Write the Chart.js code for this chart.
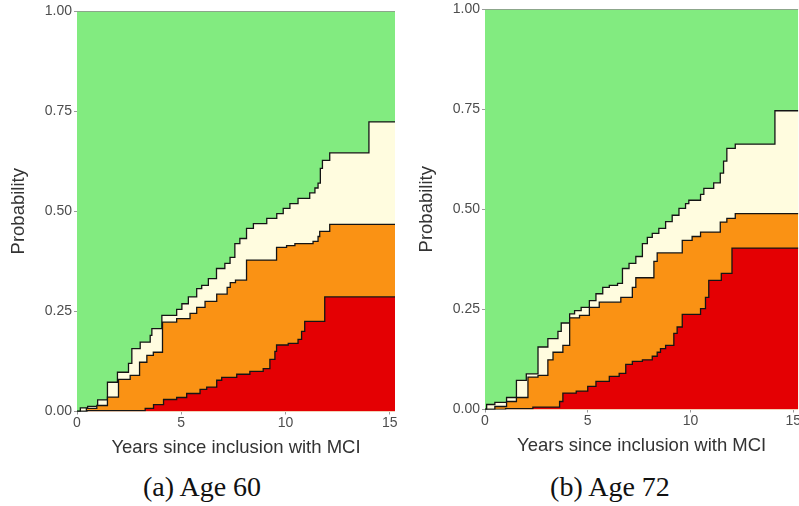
<!DOCTYPE html>
<html><head><meta charset="utf-8">
<script src="https://cdn.jsdelivr.net/npm/chart.js@4.4.0/dist/chart.umd.min.js"></script>
<style>
html,body{margin:0;padding:0;background:#fff;width:799px;height:506px;overflow:hidden;position:relative}
.wrap{position:absolute}
#w1{left:0;top:0;width:400px;height:460px}
#w2{left:408px;top:-2px;width:393px;height:460px}
.cap{position:absolute;top:471px;font-family:"Liberation Serif","Times New Roman",serif;font-size:28px;color:#111;white-space:nowrap;transform:translateX(-50%)}
</style></head><body>
<div class="wrap" id="w1"><canvas id="c1" width="400" height="460"></canvas></div>
<div class="wrap" id="w2"><canvas id="c2" width="393" height="460"></canvas></div>
<div class="cap" style="left:202px">(a) Age 60</div>
<div class="cap" style="left:610px">(b) Age 72</div>
<script>
// ---- data (years since inclusion, cumulative probability) ----
const xTicks = [0, 5, 10, 15];
const yTicks = [0, 0.25, 0.5, 0.75, 1];
const xMax = 15.25;
const panelTitles = ["(a) Age 60", "(b) Age 72"];

// Age 60 : boundaries of stacked bands (step functions)
const age60Red = [[0,0],[0.5,0.002],[3.27,0.008],[3.67,0.017],[4.15,0.03],[4.78,0.035],[5.26,0.045],[5.9,0.055],[6.22,0.061],[6.7,0.078],[6.94,0.085],[7.66,0.093],[8.29,0.1],[8.93,0.107],[9.25,0.13],[9.49,0.15],[9.57,0.166],[10.13,0.17],[10.6,0.18],[10.77,0.2],[10.92,0.225],[11.88,0.286],[15.25,0.286]];
const age60Orange = [[0,0],[0.45,0.008],[0.95,0.015],[1.46,0.036],[1.99,0.08],[2.55,0.09],[3.0,0.123],[3.35,0.14],[3.66,0.148],[4.1,0.223],[4.78,0.232],[5.42,0.245],[5.74,0.26],[6.14,0.275],[6.7,0.293],[7.2,0.31],[7.35,0.322],[7.6,0.328],[8.13,0.378],[9.57,0.41],[10.05,0.414],[10.45,0.419],[11.32,0.425],[11.56,0.437],[11.64,0.45],[12.12,0.467],[15.25,0.467]];
const age60Cream = [[0,0],[0.16,0.009],[0.51,0.013],[0.99,0.029],[1.46,0.073],[1.94,0.098],[2.47,0.12],[2.63,0.157],[3.03,0.173],[3.51,0.19],[3.59,0.207],[4.07,0.24],[4.78,0.255],[5.03,0.269],[5.34,0.286],[5.74,0.307],[5.98,0.315],[6.3,0.332],[6.69,0.357],[7.09,0.37],[7.34,0.385],[7.57,0.419],[7.81,0.432],[8.13,0.457],[8.46,0.469],[9.1,0.482],[9.58,0.494],[9.89,0.507],[10.21,0.519],[10.6,0.532],[11.16,0.546],[11.41,0.558],[11.56,0.57],[11.67,0.607],[11.77,0.627],[12.12,0.646],[14.0,0.723],[15.25,0.723]];
const age60Green = [[0,1],[15.25,1]];

// Age 72
const age72Red = [[0,0],[1.0,0.002],[2.33,0.006],[3.63,0.02],[3.79,0.041],[4.44,0.046],[5.0,0.0575],[5.4,0.07],[6.05,0.0825],[6.53,0.09],[6.85,0.1125],[7.17,0.12],[7.66,0.124],[8.14,0.133],[8.38,0.143],[8.54,0.152],[8.79,0.16],[9.19,0.19],[9.35,0.206],[9.6,0.2375],[10.49,0.252],[10.73,0.28],[10.89,0.3225],[11.5,0.34],[12.02,0.403],[15.25,0.403]];
const age72Orange = [[0,0],[0.48,0.0075],[1.05,0.02],[1.53,0.03],[2.09,0.081],[2.58,0.085],[3.06,0.124],[3.31,0.143],[3.79,0.16],[4.12,0.229],[4.6,0.235],[5.08,0.255],[5.56,0.268],[6.61,0.28],[7.17,0.305],[7.34,0.329],[8.22,0.37],[8.38,0.391],[9.6,0.4225],[10.08,0.432],[10.49,0.443],[11.45,0.468],[11.77,0.477],[12.18,0.489],[15.25,0.489]];
const age72Cream = [[0,0],[0.08,0.0125],[0.48,0.018],[1.05,0.03],[1.53,0.0725],[2.01,0.089],[2.58,0.156],[3.06,0.177],[3.55,0.195],[3.71,0.216],[4.12,0.239],[4.36,0.247],[4.68,0.255],[5.08,0.272],[5.4,0.289],[5.73,0.305],[6.05,0.31],[6.45,0.315],[6.69,0.352],[7.01,0.365],[7.34,0.382],[7.66,0.414],[7.9,0.43],[8.14,0.44],[8.46,0.452],[8.79,0.469],[9.11,0.485],[9.44,0.502],[9.76,0.514],[9.92,0.5225],[10.49,0.537],[10.65,0.552],[11.13,0.566],[11.45,0.59],[11.61,0.62],[11.77,0.652],[12.18,0.6625],[14.11,0.746],[15.25,0.746]];
const age72Green = [[0,1],[15.25,1]];

const bandColors = ["#E40003", "#FA9214", "#FFFCDF", "#82EB80"];
const lineColors = ["#141414", "#141414", "#141414", "#8f8f8f"];

function pts(arr){ return arr.map(p => ({x:p[0], y:p[1]})); }

function makeChart(id, bands, padRight){
  const datasets = bands.map((b, i) => ({
    data: pts(b),
    stepped: 'before',
    fill: 'origin',
    backgroundColor: bandColors[i],
    borderColor: lineColors[i],
    borderWidth: 1.3,
    pointRadius: 0,
    tension: 0
  }));
  return new Chart(document.getElementById(id), {
    type: 'line',
    data: { datasets },
    options: {
      responsive: false,
      animation: false,
      events: [],
      layout: { padding: { top: 11, right: padRight, left: 0, bottom: 0 } },
      plugins: { legend: { display: false }, tooltip: { enabled: false } },
      scales: {
        x: {
          type: 'linear', min: 0, max: xMax,
          afterBuildTicks: s => { s.ticks = xTicks.map(v => ({value: v})); },
          afterFit: s => { s.height = 48.5; },
          ticks: { color: '#4d4d4d', font: { family: 'Liberation Sans, Arial, sans-serif', size: 14 }, padding: 0, maxRotation: 0 },
          grid: { drawOnChartArea: false, drawTicks: true, tickLength: 3, color: '#9a9a9a' },
          border: { display: false },
          title: { display: true, text: 'Years since inclusion with MCI', color: '#333', font: { family: 'Liberation Sans, Arial, sans-serif', size: 18.5 }, padding: { top: 0, bottom: 1 } }
        },
        y: {
          type: 'linear', min: 0, max: 1,
          afterBuildTicks: s => { s.ticks = yTicks.map(v => ({value: v})); },
          afterFit: s => { s.width = 77; },
          ticks: { color: '#4d4d4d', font: { family: 'Liberation Sans, Arial, sans-serif', size: 14 }, padding: 2, callback: v => Number(v).toFixed(2) },
          grid: { drawOnChartArea: false, drawTicks: true, tickLength: 3, color: '#9a9a9a' },
          border: { display: false },
          title: { display: true, text: 'Probability', color: '#333', font: { family: 'Liberation Sans, Arial, sans-serif', size: 18.5 }, padding: { top: 8, bottom: 0 } }
        }
      }
    }
  });
}

makeChart('c1', [age60Red, age60Orange, age60Cream, age60Green], 5);
makeChart('c2', [age72Red, age72Orange, age72Cream, age72Green], 0);
</script>
</body></html>
